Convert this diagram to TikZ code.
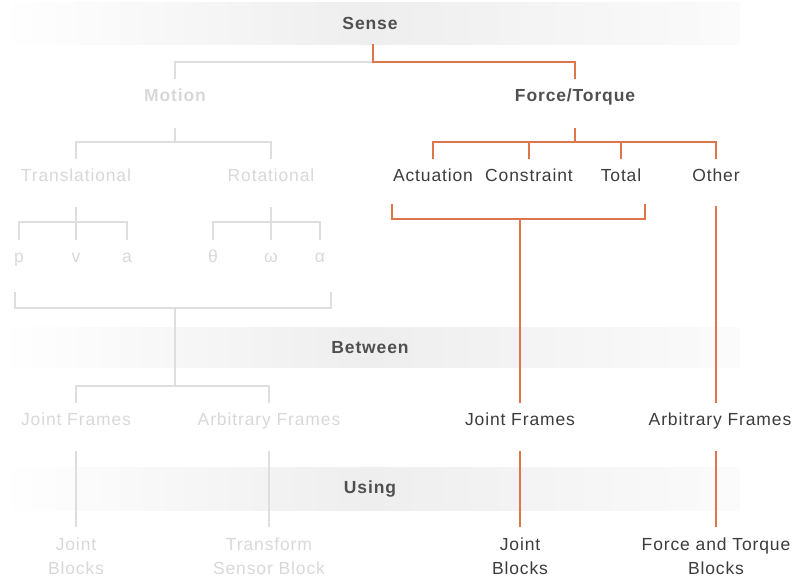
\documentclass[tikz,border=0pt]{standalone}
\usepackage{fontspec}
\setmainfont{Liberation Sans}[LetterSpace=5]

\definecolor{ora}{RGB}{221,118,77}
\definecolor{lgray}{RGB}{222,222,222}
\definecolor{ftext}{RGB}{216,216,216}
\definecolor{dtext}{RGB}{60,60,60}
\definecolor{htext}{RGB}{80,80,80}
\definecolor{bandmid}{RGB}{238,238,238}
\definecolor{bandend}{RGB}{251,251,251}

\newcommand{\lblfont}{\fontsize{17.5}{24}\selectfont}

\tikzset{
  lbl/.style={font=\lblfont, text=dtext, text height=12pt, text depth=4pt, inner xsep=2pt, inner ysep=10pt},
  dim/.style={lbl, text=ftext},
  hdr/.style={lbl, font=\lblfont\bfseries, text=htext},
  blk/.style={font=\lblfont, text=dtext, align=center, anchor=north, inner xsep=2pt, inner ysep=10.5pt},
  band/.style={minimum width=740pt, inner sep=0pt, font=\lblfont\bfseries, text=htext},
  oline/.style={draw=ora, line width=1.6pt},
  gline/.style={draw=lgray, line width=1.6pt}
}

\begin{document}
\begin{tikzpicture}[x=1pt, y=-1pt]
    \useasboundingbox (0,0) rectangle (795,578);

    % Bands
    \foreach \bn/\by/\bh in {sensebg/23.5/41, betweenbg/347.5/39, usingbg/489/42} {
        \path (370,\by) node[band, minimum height=\bh pt] (\bn) {};
        \shade[left color=white, right color=bandmid] (\bn.south west) rectangle (\bn.north);
        \shade[left color=bandmid, right color=bandend] (\bn.south) rectangle (\bn.north east);
    }
    \node[band] (sense) at (sensebg) {Sense};
    \node[band] (between) at (betweenbg) {Between};
    \node[band] (using) at (usingbg) {Using};

    % What is sensed
    \node[hdr, text=ftext] (motion) at (175,97.5) {Motion};
    \node[hdr] (force) at (575,97.5) {Force/Torque};

    \node[dim] (trans) at (76,177) {Translational};
    \node[dim] (rot) at (271,177) {Rotational};
    \node[lbl] (act) at (433,177) {Actuation};
    \node[lbl] (con) at (529,177) {Constraint};
    \node[lbl] (tot) at (621,177) {Total};
    \node[lbl] (oth) at (716,177) {Other};

    \node[dim] (p) at (19,258) {p};
    \node[dim] (v) at (76,258) {v};
    \node[dim] (a) at (127,258) {a};
    \node[dim] (theta) at (213,258) {θ};
    \node[dim] (omega) at (271,258) {ω};
    \node[dim] (alpha) at (320,258) {α};

    % Between
    \node[dim] (jfa) at (76,421) {Joint Frames};
    \node[dim] (afa) at (269,421) {Arbitrary Frames};
    \node[lbl] (jfb) at (520,421) {Joint Frames};
    \node[lbl] (afb) at (720,421) {Arbitrary Frames};

    % Using
    \node[blk, text=ftext] (jba) at (76,527) {Joint\\Blocks};
    \node[blk, text=ftext] (tsb) at (269,527) {Transform\\Sensor Block};
    \node[blk] (jbb) at (520,527) {Joint\\Blocks};
    \node[blk] (ftb) at (716,527) {Force and Torque\\Blocks};

    % Junctions
    \coordinate (sj) at (373,62);
    \coordinate (mj) at (175,142);
    \coordinate (fj) at (575,142);
    \coordinate (bl) at (15,292);
    \coordinate (br) at (331,292);
    \coordinate (bj) at (175,386);
    \coordinate (ol) at (392,204);
    \coordinate (or) at (645,204);

    % Grey branches
    \draw[gline] (sj) -| (motion.north);
    \draw[gline] ([yshift=-12pt]motion.south) -- (mj);
    \draw[gline] (trans.north) |- (mj) -| (rot.north);
    \draw[gline] ([yshift=-12pt]trans.south) -- (v.north);
    \draw[gline] (p.north) -- ++(0,-18) -| (a.north);
    \draw[gline] ([yshift=-12pt]rot.south) -- (omega.north);
    \draw[gline] (theta.north) -- ++(0,-18) -| (alpha.north);
    \draw[gline] (bl) -- ++(0,16) -| (br);
    \draw[gline] (bl |- 0,308) -| (bj);
    \draw[gline] (jfa.north) |- (bj) -| (afa.north);
    \draw[gline] ([yshift=-12pt]jfa.south) -- (jba.north);
    \draw[gline] ([yshift=-12pt]afa.south -| tsb.north) -- (tsb.north);

    % Orange branches
    \draw[oline] (sensebg.south -| sj) -- (sj) -| (force.north);
    \draw[oline] ([yshift=-12pt]force.south) -- (fj);
    \draw[oline] (act.north) |- (fj) -| (oth.north);
    \draw[oline] (con.north) -- (con.north |- fj);
    \draw[oline] (tot.north) -- (tot.north |- fj);
    \draw[oline] (ol) -- ++(0,15) -| (or);
    \draw[oline] (jfb.north |- 0,219) -- (jfb.north);
    \draw[oline] ([yshift=-11pt]oth.south) -- (oth.south |- afb.north);
    \draw[oline] ([yshift=-12pt]jfb.south) -- (jbb.north);
    \draw[oline] ([yshift=-12pt]afb.south -| ftb.north) -- (ftb.north);
\end{tikzpicture}
\end{document}
